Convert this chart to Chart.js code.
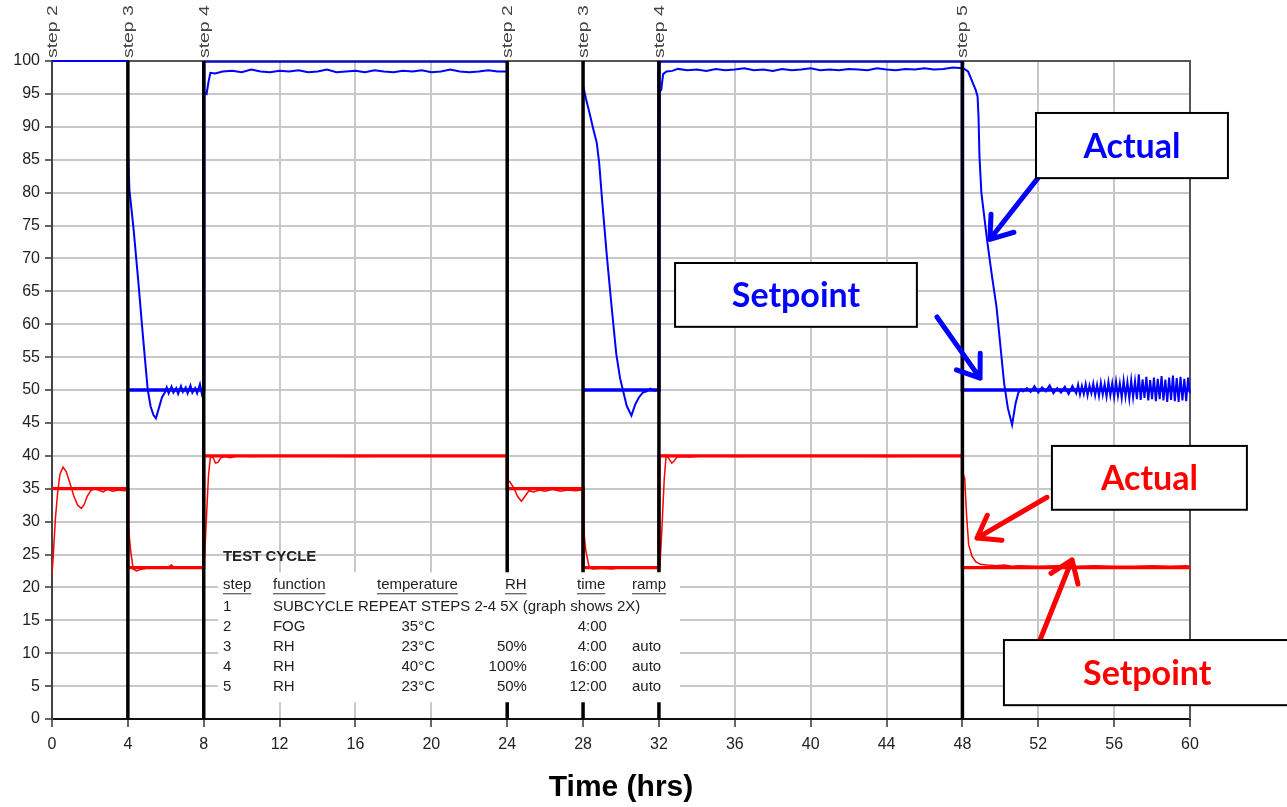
<!DOCTYPE html>
<html>
<head>
<meta charset="utf-8">
<title>Test cycle</title>
<script src="https://cdn.jsdelivr.net/npm/chart.js@4.4.0/dist/chart.umd.min.js"></script>
<style>
	html, body { margin: 0; padding: 0; background: #fff; }
	#wrap { width: 1287px; height: 807px; }
</style>
</head>
<body>
<div id="wrap"><canvas id="cycle-chart"></canvas></div>
<script>
// step boundaries (hrs) and the step names written above the plot
const stepTimes = [4, 8, 24, 28, 32, 48];
const stepLabelTimes = [0, 4, 8, 24, 28, 32, 48];
const stepLabels = ['step 2', 'step 3', 'step 4', 'step 2', 'step 3', 'step 4', 'step 5'];

// RH setpoint (%), no setpoint during fog
const rhSetTime = [4, 8, 8, 24, 24.5, 28, 32, 32, 48, 48, 60];
const rhSet = [50, 50, 100, 100, null, 50, 50, 100, 100, 50, 50];

// temperature setpoint (degC)
const tempSetTime = [0, 4, 4, 8, 8, 24, 24, 28, 28, 32, 32, 48, 48, 60];
const tempSet = [35, 35, 23, 23, 40, 40, 35, 35, 23, 23, 40, 40, 23, 23];

// RH actual (%)
const rhActTime = [
	0, 4,
	4.02, 4.08, 4.3, 4.55, 4.8, 5.05, 5.2, 5.35, 5.48, 5.65, 5.8, 5.95, 6.05, 6.15, 6.3, 6.4, 6.55, 6.65, 6.8, 6.9,
	7.05, 7.15, 7.3, 7.4, 7.55, 7.65, 7.8, 7.9, 8.0,
	8.02, 8.15, 8.25, 8.35, 8.6, 9, 9.5, 10, 10.5, 11, 11.5, 12, 12.5, 13, 13.5, 14, 14.5, 15, 15.5, 16, 16.5,
	17, 17.5, 18, 18.5, 19, 19.5, 20, 20.5, 21, 21.5, 22, 22.5, 23, 23.5, 24,
	24.5,
	28.02, 28.15, 28.35, 28.55, 28.72, 28.85, 29.0, 29.25, 29.5, 29.75, 29.95, 30.1, 30.3, 30.55, 30.75, 30.95,
	31.15, 31.35, 31.55, 31.75, 32.0,
	32.02, 32.12, 32.22, 32.4, 32.7, 33, 33.5, 34, 34.5, 35, 35.5, 36, 36.5, 37, 37.5, 38, 38.5, 39, 39.5, 40,
	40.5, 41, 41.5, 42, 42.5, 43, 43.5, 44, 44.5, 45, 45.5, 46, 46.5, 47, 47.5, 48,
	48.1, 48.3, 48.5, 48.7, 48.8, 48.85, 48.9, 49.0, 49.3, 49.55, 49.8, 50.0, 50.2, 50.4, 50.62, 50.8, 50.95, 51.1,
	51.2, 51.4, 51.6, 51.8, 52.0, 52.2, 52.4, 52.6, 52.8, 53.0, 53.2, 53.4, 53.6, 53.8, 54.0,
	54.1, 54.2, 54.3, 54.4, 54.5, 54.6, 54.7, 54.8, 54.9, 55.0, 55.1, 55.2, 55.3, 55.4, 55.5, 55.6, 55.7, 55.8, 55.9, 56.0,
	56.1, 56.2, 56.3, 56.4, 56.5, 56.6, 56.7, 56.8, 56.9, 57.0, 57.1, 57.2, 57.3, 57.4, 57.5, 57.6, 57.7, 57.8, 57.9, 58.0,
	58.1, 58.2, 58.3, 58.4, 58.5, 58.6, 58.7, 58.8, 58.9, 59.0, 59.1, 59.2, 59.3, 59.4, 59.5, 59.6, 59.7, 59.8, 59.9, 60.0
];
const rhAct = [
	100, 100,
	85.5, 80.5, 74.5, 66.5, 58, 50, 47.5, 46.2, 45.7, 47.4, 48.9, 49.6, 50.4, 49.5, 50.5, 49.6, 50.3, 49.4, 50.6, 49.7,
	50.4, 49.5, 50.7, 49.6, 50.3, 49.5, 50.9, 49.4, 50.2,
	95.2, 95.0, 96.8, 98.2, 98.1, 98.4, 98.5, 98.3, 98.7, 98.4, 98.3, 98.5, 98.4, 98.6, 98.3, 98.4, 98.7, 98.3, 98.4, 98.5, 98.3,
	98.6, 98.4, 98.3, 98.5, 98.4, 98.6, 98.3, 98.4, 98.7, 98.4, 98.3, 98.4, 98.6, 98.4, 98.4,
	null,
	96.0, 94.3, 92.0, 89.5, 87.6, 84.5, 79.0, 70.5, 62.8, 55.5, 51.8, 50.0, 47.6, 46.1, 47.8, 48.9,
	49.6, 49.8, 50.2, 49.9, 50.1,
	95.3, 95.6, 98.0, 98.4, 98.5, 98.8, 98.6, 98.7, 98.5, 98.8, 98.6, 98.7, 98.9, 98.6, 98.7, 98.5, 98.8, 98.6, 98.7, 98.9,
	98.6, 98.7, 98.6, 98.8, 98.7, 98.6, 98.9, 98.7, 98.6, 98.8, 98.7, 98.9, 98.7, 98.8, 99.0, 98.9,
	98.8, 98.4, 97.0, 95.6, 94.6, 91.5, 85.5, 80.0, 72.8, 67.5, 62.6, 56.8, 51.0, 47.2, 44.7, 47.9, 49.6, 50.1,
	49.8, 50.3, 49.7, 50.6, 49.6, 50.4, 49.8, 50.7, 49.5, 50.3, 49.6, 50.5, 49.4, 50.6, 49.5,
	50.8, 49.3, 50.6, 49.4, 50.9, 49.2, 50.7, 49.5, 51.0, 49.2, 50.8, 49.1, 51.1, 49.3, 50.9, 49.0, 51.2, 49.2, 51.0, 48.9,
	51.3, 49.1, 51.0, 48.8, 51.4, 49.0, 51.2, 48.7, 51.5, 48.9, 51.3, 48.6, 52.4, 48.5, 51.6, 48.8, 52.0, 48.4, 51.5, 48.6,
	51.9, 48.3, 51.7, 48.6, 52.1, 48.4, 51.6, 48.2, 51.9, 48.5, 52.2, 48.3, 51.8, 48.2, 52.0, 48.4, 51.7, 48.3, 51.9, 49.5
];

// temperature actual (degC)
const tempActTime = [
	0, 0.08, 0.18, 0.3, 0.42, 0.58, 0.75, 0.95, 1.15, 1.35, 1.55, 1.7, 1.85, 2.05, 2.25, 2.45, 2.7, 2.9, 3.2, 3.5, 3.8, 4.0,
	4.02, 4.15, 4.28, 4.45, 4.65, 5.0, 5.5, 6.0, 6.3, 6.45, 7.0, 7.5, 8.0,
	8.05, 8.15, 8.25, 8.35, 8.5, 8.62, 8.75, 8.9, 9.1, 9.4, 9.8, 10.5, 12, 16, 20, 24.0,
	24.02, 24.15, 24.35, 24.55, 24.75, 24.95, 25.15, 25.4, 25.7, 26.0, 26.4, 26.8, 27.2, 27.6, 28.0,
	28.02, 28.15, 28.32, 28.5, 29.0, 29.5, 30.0, 30.5, 31.0, 31.5, 32.0,
	32.05, 32.15, 32.28, 32.38, 32.52, 32.68, 32.8, 32.95, 33.2, 33.6, 34.5, 36, 40, 44, 48.0,
	48.05, 48.12, 48.22, 48.33, 48.5, 48.7, 48.95, 49.3, 49.8, 50.2, 50.6, 51, 52, 53, 54, 55, 56, 57, 58, 59, 59.8, 60
];
const tempAct = [
	21.9, 25.5, 30.5, 34.5, 37.2, 38.3, 37.6, 35.8, 33.9, 32.5, 32.0, 32.6, 33.8, 34.7, 35.0, 34.8, 34.5, 34.9, 34.6, 34.8, 34.7, 34.8,
	29.5, 25.5, 22.8, 22.5, 22.7, 22.9, 23.0, 22.9, 23.4, 22.9, 23.0, 22.9, 23.0,
	25.0, 31.0, 37.0, 39.8, 39.7, 38.9, 39.0, 39.7, 39.9, 39.7, 40.0, 39.9, 40.0, 39.9, 40.0, 40.0,
	36.3, 36.0, 35.1, 33.8, 33.1, 33.9, 34.7, 34.5, 34.8, 34.6, 34.9, 34.6, 34.8, 34.7, 34.8,
	29.0, 25.5, 23.1, 22.8, 22.9, 22.8, 23.0, 22.9, 23.0, 22.9, 22.9,
	23.2, 28.5, 36.5, 40.1, 39.6, 38.9, 39.2, 39.8, 39.9, 39.8, 40.0, 39.9, 40.0, 39.9, 40.0,
	37.2, 36.6, 31.0, 26.5, 24.8, 23.9, 23.5, 23.4, 23.3, 23.4, 23.2, 23.3, 23.2, 23.3, 23.2, 23.3, 23.2, 23.2, 23.3, 23.2, 23.3, 23.2
];

// test cycle table
const tableTitle = 'TEST CYCLE';
const tableHeader = ['step', 'function', 'temperature', 'RH', 'time', 'ramp'];
const tableRows = [
	['1', 'SUBCYCLE REPEAT STEPS 2-4 5X (graph shows 2X)', '', '', '', ''],
	['2', 'FOG', '35°C', '', '4:00', ''],
	['3', 'RH', '23°C', '50%', '4:00', 'auto'],
	['4', 'RH', '40°C', '100%', '16:00', 'auto'],
	['5', 'RH', '23°C', '50%', '12:00', 'auto']
];

const BLUE = '#0000ff';
const RED = '#ff0000';
const ARIAL = '"Liberation Sans", Arial, sans-serif';
const CALLOUT_FONT = 'bold 34px Lato, "Open Sans", sans-serif';

// callout boxes, placed in data units (box corners and arrow tail -> tip)
const callouts = [
	{ text: 'Actual', color: BLUE, box: [51.88, 92.1, 62.0, 82.2], arrow: [51.98, 82.2, 49.45, 72.9] },
	{ text: 'Setpoint', color: BLUE, box: [32.85, 69.3, 45.6, 59.6], arrow: [46.66, 61.1, 48.93, 51.8] },
	{ text: 'Actual', color: RED, box: [52.72, 41.5, 63.0, 31.8], arrow: [52.46, 33.7, 48.77, 27.5] },
	{ text: 'Setpoint', color: RED, box: [50.19, 12.0, 65.3, 2.1], arrow: [52.09, 12.0, 53.78, 24.2] }
];

const toPoints = (ts, vs) => ts.map((t, i) => ({ x: t, y: vs[i] }));

function drawArrow(ctx, x1, y1, x2, y2, color) {
	const ang = Math.atan2(y2 - y1, x2 - x1);
	const head = 25, spread = 0.62;
	ctx.save();
	ctx.strokeStyle = color;
	ctx.lineWidth = 5;
	ctx.lineCap = 'round';
	ctx.lineJoin = 'round';
	ctx.beginPath();
	ctx.moveTo(x1, y1);
	ctx.lineTo(x2, y2);
	ctx.moveTo(x2 - head * Math.cos(ang - spread), y2 - head * Math.sin(ang - spread));
	ctx.lineTo(x2, y2);
	ctx.lineTo(x2 - head * Math.cos(ang + spread), y2 - head * Math.sin(ang + spread));
	ctx.stroke();
	ctx.restore();
}

const cyclePlugin = {
	id: 'cycleDecor',
	beforeDatasetsDraw: (chart) => {
		const { ctx, chartArea: { top, bottom, left, right } } = chart;
		// frame on top and right, under the data lines
		ctx.save();
		ctx.strokeStyle = '#555';
		ctx.lineWidth = 2;
		ctx.beginPath();
		ctx.moveTo(left, top);
		ctx.lineTo(right, top);
		ctx.lineTo(right, bottom);
		ctx.stroke();
		ctx.restore();
	},
	afterDatasetsDraw: (chart) => {
		const { ctx, chartArea: { top, bottom }, scales: { x, y } } = chart;

		ctx.save();
		// step boundaries
		ctx.strokeStyle = '#000';
		ctx.lineWidth = 3.5;
		stepTimes.forEach(t => {
			const px = x.getPixelForValue(t);
			ctx.beginPath();
			ctx.moveTo(px, top);
			ctx.lineTo(px, bottom);
			ctx.stroke();
		});

		// step names, rotated
		ctx.fillStyle = '#444';
		ctx.font = '14px ' + ARIAL;
		ctx.textAlign = 'left';
		ctx.textBaseline = 'middle';
		stepLabelTimes.forEach((t, i) => {
			ctx.save();
			ctx.translate(x.getPixelForValue(t) + 1, top - 3);
			ctx.rotate(-Math.PI / 2);
			ctx.scale(1.38, 1);
			ctx.fillText(stepLabels[i], 0, 0);
			ctx.restore();
		});

		// table
		const L = x.getPixelForValue(8.75);
		const T = y.getPixelForValue(22.3);
		ctx.fillStyle = '#fff';
		ctx.fillRect(L, T, 462, 130);

		ctx.fillStyle = '#222';
		ctx.font = 'bold 15px ' + ARIAL;
		ctx.fillText(tableTitle, L + 5, T - 15);

		const colLeft = [5, 55, 159, 287, 359, 414];
		const colRight = [null, null, 217, 309, 389, null];
		ctx.font = '15px ' + ARIAL;
		ctx.strokeStyle = '#333';
		ctx.lineWidth = 1;
		tableHeader.forEach((h, c) => {
			const hx = L + colLeft[c];
			const w = ctx.measureText(h).width;
			ctx.textAlign = 'left';
			ctx.fillText(h, hx, T + 13);
			ctx.beginPath();
			ctx.moveTo(hx, T + 21.5);
			ctx.lineTo(hx + w, T + 21.5);
			ctx.stroke();
		});
		tableRows.forEach((row, r) => {
			const ry = T + 35 + r * 20;
			row.forEach((cell, c) => {
				if (!cell) return;
				if (colRight[c] != null) {
					ctx.textAlign = 'right';
					ctx.fillText(cell, L + colRight[c], ry);
				} else {
					ctx.textAlign = 'left';
					ctx.fillText(cell, L + colLeft[c], ry);
				}
			});
		});

		// callouts
		callouts.forEach(c => {
			const x1 = x.getPixelForValue(c.box[0]), y1 = y.getPixelForValue(c.box[1]);
			const x2 = x.getPixelForValue(c.box[2]), y2 = y.getPixelForValue(c.box[3]);
			drawArrow(ctx, x.getPixelForValue(c.arrow[0]), y.getPixelForValue(c.arrow[1]),
				x.getPixelForValue(c.arrow[2]), y.getPixelForValue(c.arrow[3]), c.color);
			ctx.fillStyle = '#fff';
			ctx.fillRect(x1, y1, x2 - x1, y2 - y1);
			ctx.strokeStyle = '#000';
			ctx.lineWidth = 2;
			ctx.strokeRect(x1, y1, x2 - x1, y2 - y1);
			ctx.fillStyle = c.color;
			ctx.font = CALLOUT_FONT;
			ctx.textAlign = 'center';
			ctx.textBaseline = 'middle';
			ctx.fillText(c.text, (x1 + x2) / 2, (y1 + y2) / 2 + 1);
		});
		ctx.restore();
	}
};

new Chart(document.getElementById('cycle-chart'), {
	type: 'line',
	data: {
		datasets: [{
			label: 'RH setpoint',
			data: toPoints(rhSetTime, rhSet),
			borderColor: BLUE,
			borderWidth: 3.4,
			order: 4
		}, {
			label: 'Temperature setpoint',
			data: toPoints(tempSetTime, tempSet),
			borderColor: RED,
			borderWidth: 3.2,
			order: 3
		}, {
			label: 'RH actual',
			data: toPoints(rhActTime, rhAct),
			borderColor: BLUE,
			borderWidth: 2,
			clip: 3,
			order: 2
		}, {
			label: 'Temperature actual',
			data: toPoints(tempActTime, tempAct),
			borderColor: RED,
			borderWidth: 1.5,
			order: 1
		}]
	},
	options: {
		animation: false,
		responsive: true,
		maintainAspectRatio: false,
		elements: {
			point: { radius: 0 },
			line: { tension: 0 }
		},
		layout: {
			padding: { top: 61, right: 97, left: 0, bottom: 0 }
		},
		plugins: {
			legend: { display: false },
			tooltip: { enabled: false }
		},
		scales: {
			x: {
				type: 'linear',
				min: 0,
				max: 60,
				ticks: {
					stepSize: 4,
					color: '#222',
					font: { family: ARIAL, size: 16 },
					padding: 8
				},
				grid: {
					color: '#c8c8c8',
					lineWidth: 2,
					tickLength: 8,
					tickColor: '#333',
					tickWidth: 1.5
				},
				border: { color: '#111', width: 2 },
				title: {
					display: true,
					text: 'Time (hrs)',
					color: '#000',
					font: { family: ARIAL, size: 30, weight: 'bold' },
					padding: { top: 0, bottom: 1 }
				},
				afterFit: (scale) => { scale.height = 88; }
			},
			y: {
				min: 0,
				max: 100,
				ticks: {
					stepSize: 5,
					color: '#222',
					font: { family: ARIAL, size: 16 },
					padding: 5
				},
				grid: {
					color: '#c8c8c8',
					lineWidth: 2,
					tickLength: 7,
					tickColor: '#333',
					tickWidth: 1.5
				},
				border: { color: '#444', width: 2 },
				afterFit: (scale) => { scale.width = 52; }
			}
		}
	},
	plugins: [cyclePlugin]
});
</script>
</body>
</html>
